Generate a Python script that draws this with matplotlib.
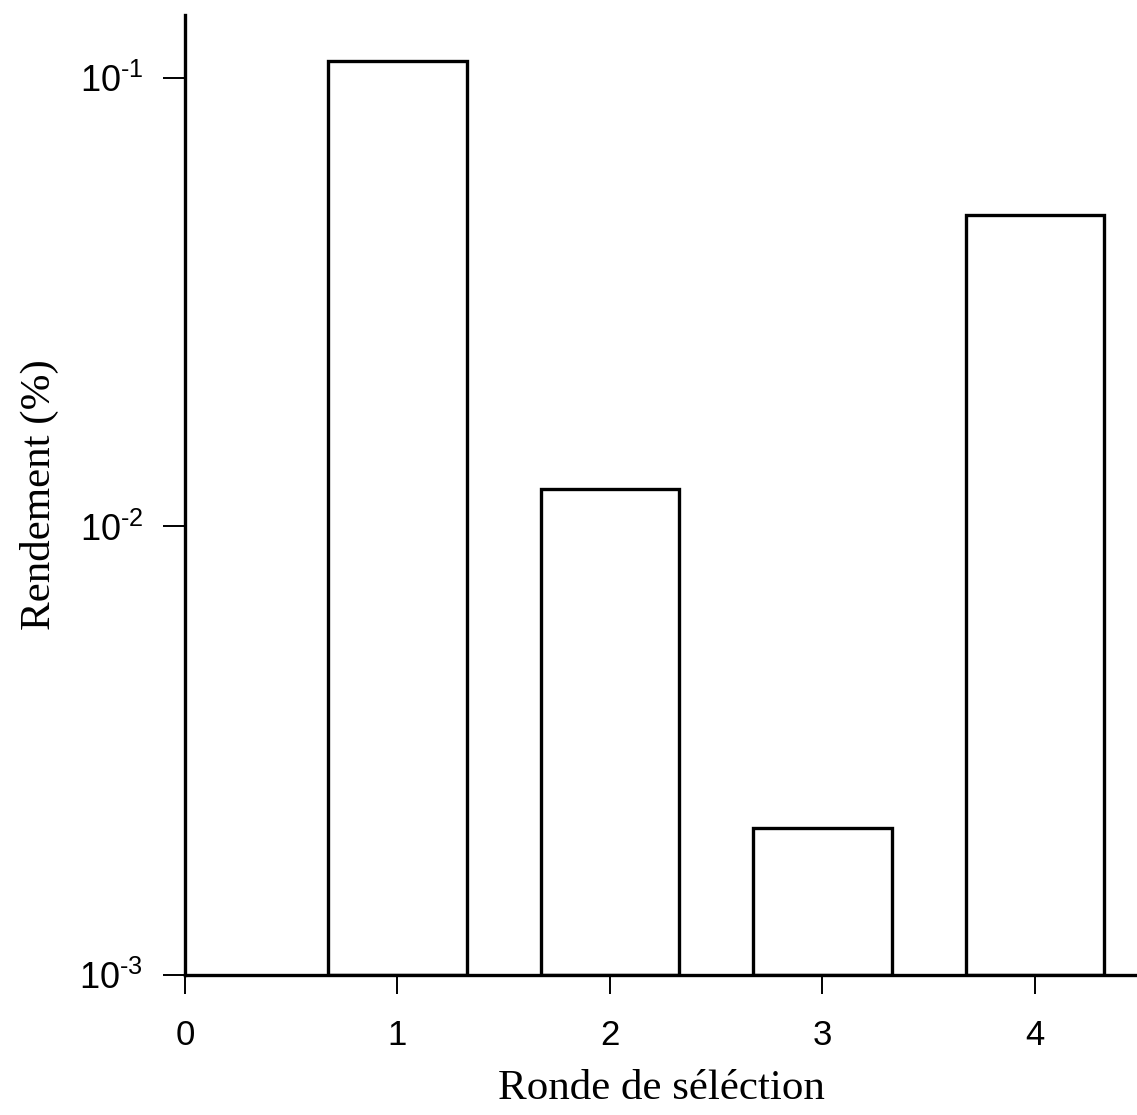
import matplotlib.pyplot as plt
import matplotlib.ticker as ticker

rounds = [1, 2, 3, 4]
rendement = [0.109, 0.0121, 0.00213, 0.0496]
x_ticks = [0, 1, 2, 3, 4]
y_ticks = [1e-3, 1e-2, 1e-1]
y_labels = [r'$\mathregular{10^{\text{-}3}}$', r'$\mathregular{10^{\text{-}2}}$',
            r'$\mathregular{10^{\text{-}1}}$']

plt.rcParams['font.family'] = ['Liberation Sans', 'DejaVu Sans']
plt.rcParams['mathtext.fontset'] = 'custom'
plt.rcParams['mathtext.rm'] = 'Liberation Sans'

base = 1e-3
heights = [v - base for v in rendement]

fig = plt.figure(figsize=(11.37, 11.15), dpi=100)
ax = fig.add_axes([0.1627, 0.1256, 0.8373, 0.861])

ax.bar(rounds, heights, width=0.65, bottom=base, color='white',
       edgecolor='black', linewidth=2.4, zorder=2)

ax.set_yscale('log')
ax.set_ylim(base, 10 ** -0.8595)
ax.set_xlim(0, 4.48)

ax.set_xticks(x_ticks)
ax.set_xticklabels([str(t) for t in x_ticks])
ax.yaxis.set_major_locator(ticker.FixedLocator(y_ticks))
ax.yaxis.set_minor_locator(ticker.NullLocator())
ax.set_yticklabels(y_labels)

ax.spines['top'].set_visible(False)
ax.spines['right'].set_visible(False)
for side in ['left', 'bottom']:
    ax.spines[side].set_linewidth(2.4)
    ax.spines[side].set_zorder(3)

ax.tick_params(axis='y', direction='out', length=16, width=1.4, pad=14, labelsize=26)
ax.tick_params(axis='x', direction='out', length=14, width=1.4, pad=18, labelsize=25)

ax.set_xlabel('Ronde de séléction', family='Liberation Serif', fontsize=31, labelpad=12)
ax.set_ylabel('Rendement (%)', family='Liberation Serif', fontsize=31, labelpad=15)

fig.savefig('out.png', dpi=100)
